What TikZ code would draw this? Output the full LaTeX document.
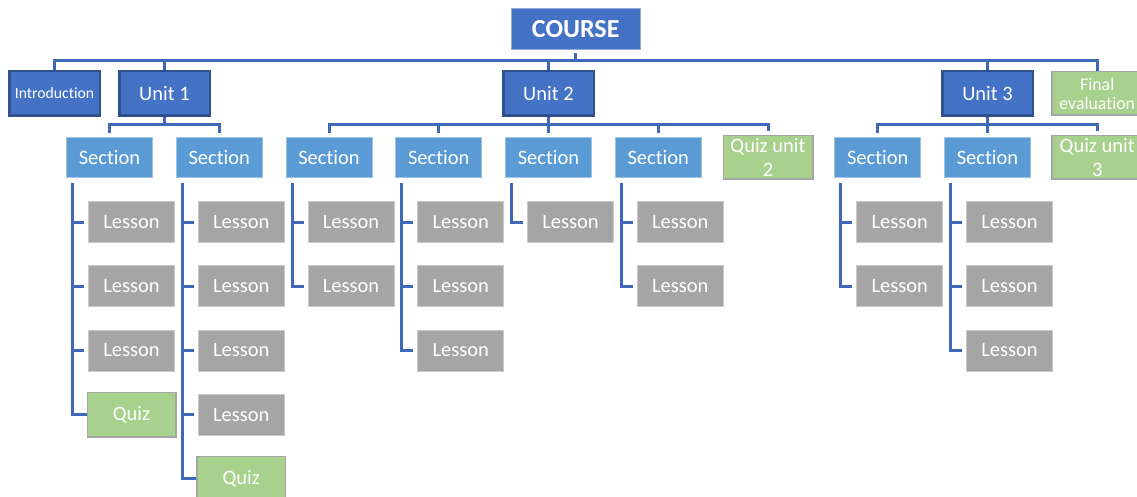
\documentclass[tikz,border=0pt]{standalone}
\usepackage{fontspec}
\setmainfont{Carlito}[Ligatures={NoCommon}]
\usetikzlibrary{calc}
\definecolor{ublue}{HTML}{4472C4}
\definecolor{udark}{HTML}{2F528F}
\definecolor{ulight}{HTML}{8FAADC}
\definecolor{sblue}{HTML}{5B9BD5}
\definecolor{sborder}{HTML}{9DC3E6}
\definecolor{lgrey}{HTML}{A5A5A5}
\definecolor{lborder}{HTML}{C9C9C9}
\definecolor{qgreen}{HTML}{A9D18E}
\definecolor{qborder}{HTML}{A5A5A5}
\definecolor{linec}{HTML}{3F68B8}
\begin{document}
\begin{tikzpicture}[x=1pt,y=-1pt,
  basebox/.style={rectangle, inner sep=0pt, align=center, text=white, font=\fontsize{20.5}{24}\selectfont},
  coursebox/.style={basebox, fill=ublue, draw=ulight, line width=1pt, minimum width=129pt, minimum height=41pt, font=\fontsize{26}{30}\selectfont\bfseries},
  unitbox/.style={basebox, fill=ublue, draw=udark, line width=2.5pt, minimum width=90.5pt, minimum height=44.5pt},
  sectionbox/.style={basebox, fill=sblue, draw=sborder, line width=0.8pt, minimum width=86pt, minimum height=40pt},
  lessonbox/.style={basebox, fill=lgrey, draw=lborder, line width=0.8pt, minimum width=86pt, minimum height=41pt},
  quizbox/.style={basebox, fill=qgreen, draw=qborder, line width=1.5pt, minimum width=88.5pt, minimum height=44.5pt},
  conn/.style={draw=linec, line width=3pt}
]
\useasboundingbox (0,0) rectangle (1137,497);

% top level
\node[coursebox] (course) at (575.7,29) {COURSE};
\node[unitbox, font=\fontsize{15.7}{18}\selectfont] (intro) at (54.5,93.5) {Introduction};
\node[unitbox] (u1) at (164.5,93.5) {Unit 1};
\node[unitbox] (u2) at (548.5,93.5) {Unit 2};
\node[unitbox] (u3) at (987.5,93.5) {Unit 3};
\node[quizbox, minimum width=90.5pt, minimum height=43.5pt, font=\fontsize{17.8}{19}\selectfont] (final) at (1097.25,93.5) {Final\\evaluation};

% sections
\node[sectionbox] (s11) at (109.5,157.5) {Section};
\node[sectionbox] (s12) at (219.25,157.5) {Section};
\node[sectionbox] (s21) at (329,157.5) {Section};
\node[sectionbox] (s22) at (438.75,157.5) {Section};
\node[sectionbox] (s23) at (548.5,157.5) {Section};
\node[sectionbox] (s24) at (658.25,157.5) {Section};
\node[quizbox, minimum width=89.5pt, minimum height=43.5pt] (q2) at (768,157.5) {Quiz unit\\2};
\node[sectionbox] (s31) at (877.75,157.5) {Section};
\node[sectionbox] (s32) at (987.5,157.5) {Section};
\node[quizbox, minimum width=90.5pt, minimum height=43.5pt] (q3) at (1097.25,157.5) {Quiz unit\\3};

% top bus
\coordinate (bus0) at ($(course.south)+(0,11)$);
\draw[conn] ($(course.south)+(0,3)$) -- (bus0);
\foreach \u in {intro,u1,u2,u3,final} {
  \draw[conn] (\u.north) |- (bus0);
}

% unit buses
\foreach \u/\kids in {u1/{s11,s12}, u2/{s21,s22,s23,s24,q2}, u3/{s31,s32,q3}} {
  \coordinate (b-\u) at ($(\u.south)+(0,8)$);
  \draw[conn] (\u.south) -- (b-\u);
  \foreach \k in \kids {
    \draw[conn] ($(\k.north)+(0,-4)$) |- (b-\u);
  }
}

% lessons
\foreach \s/\n in {s11/3, s12/4, s21/2, s22/3, s23/1, s24/2, s31/2, s32/3} {
  \foreach \r in {1,...,\n} {
    \node[lessonbox] (\s-\r) at ($(\s.center)+(22,{64.2*\r+0.3})$) {Lesson};
    \draw[conn, shorten >=4pt] ($(\s.south)+(-37,5)$) |- (\s-\r.west);
  }
}

% section quizzes
\node[quizbox] (q11) at ($(s11.center)+(22,{64.2*4+0.3})$) {Quiz};
\draw[conn] ($(s11.south)+(-37,5)$) |- (q11.west);
\node[quizbox] (q12) at ($(s12.center)+(22,{64.2*5+0.3})$) {Quiz};
\draw[conn] ($(s12.south)+(-37,5)$) |- (q12.west);
\end{tikzpicture}
\end{document}
